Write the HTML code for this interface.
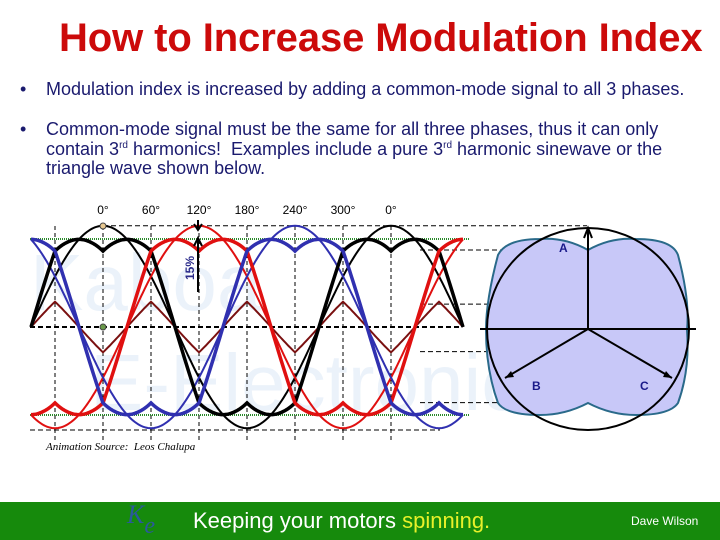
<!DOCTYPE html>
<html><head><meta charset="utf-8"><style>
body{margin:0;width:720px;height:540px;overflow:hidden;background:#fff;font-family:"Liberation Sans",sans-serif;position:relative}
.t{position:absolute;white-space:nowrap}
</style></head><body>
<div class="t" style="left:59px;top:16px;font-size:40px;font-weight:bold;color:#cc0a0a;letter-spacing:-0.1px">How to Increase Modulation Index</div>
<div class="t" style="left:20px;top:79px;font-size:18px;color:#1a1a6e;letter-spacing:0px">•<span style="position:absolute;left:26px">Modulation index is increased by adding a common-mode signal to all 3 phases.</span></div>
<div class="t" style="left:20px;top:120px;font-size:18px;color:#1a1a6e;line-height:19.5px;letter-spacing:0px">•<span style="position:absolute;left:26px">Common-mode signal must be the same for all three phases, thus it can only<br>contain 3<sup style="font-size:10px;line-height:0">rd</sup> harmonics!&nbsp; Examples include a pure 3<sup style="font-size:10px;line-height:0">rd</sup> harmonic sinewave or the<br>triangle wave shown below.</span></div>
<svg id="chart" width="720" height="540" style="position:absolute;left:0;top:0">
<g id="wm" font-family="Liberation Sans" fill="#d4e4f4" opacity="0.45">
<text x="30" y="310" font-size="80">Kaboa</text><text x="90" y="410" font-size="80">E-Electronics</text></g>
<g id="g"></g>
</svg>
<div class="t" style="left:46px;top:441px;font-size:11px;font-style:italic;font-family:'Liberation Serif',serif">Animation Source:&nbsp; Leos Chalupa</div>
<div style="position:absolute;left:0;top:502px;width:720px;height:38px;background:#168a0c">
<div class="t" style="left:127px;top:-2px;font-size:26px;font-style:italic;color:#2a5a9a;font-family:'Liberation Serif',serif">K<span style="font-size:24px;position:relative;top:10px">e</span></div>
<div class="t" style="left:193px;top:6px;font-size:22px;color:#fff">Keeping your motors <span style="color:#e8f02a">spinning.</span></div>
<div class="t" style="left:631px;top:12px;font-size:12px;color:#fff">Dave Wilson</div>
</div>
<script>
const angleTicks=[0,60,120,180,240,300,360];
const tickLabels=["0°","60°","120°","180°","240°","300°","0°"];
const sineAmp=[1.15];
const phaseShifts=[0,120,240];
const phaseColors=["#000000","#e01010","#3030b0"];
const x=d=>103+d*0.8, y=v=>327-v*88;
const NS="http://www.w3.org/2000/svg", g=document.getElementById('g');
function el(t,a,p){const e=document.createElementNS(NS,t);for(const k in a)e.setAttribute(k,a[k]);(p||g).appendChild(e);return e;}
const A=sineAmp[0];
const s=(d,k)=>A*Math.cos((d-phaseShifts[k])*Math.PI/180);
const cm=d=>{const v=[0,1,2].map(k=>s(d,k));return -(Math.max(...v)+Math.min(...v))/2;};
[ -60,0,60,120,180,240,300,360].forEach(d=>{const l=el('line',{x1:x(d),x2:x(d),y1:226,y2:440,stroke:'#000','stroke-dasharray':'4,3','stroke-width':1});});
[[1.15,103,587],[0.875,420,587],[0.26,420,587],[0,30,462],[-0.28,420,587],[-0.86,420,587],[-1.17,30,440]].forEach(h=>{const l=el('line',{x1:h[1],x2:h[2],y1:y(h[0]),y2:y(h[0]),stroke:'#000','stroke-dasharray':'5,3','stroke-width':h[0]==0?2:1});});
[1,-1].forEach(v=>{const l=el('line',{x1:30,x2:470,y1:y(v),y2:y(v),stroke:'#2a8a2a','stroke-dasharray':'1,1','stroke-width':2});});
tickLabels.forEach((t,i)=>{const e=el('text',{x:x(angleTicks[i]),y:214,'font-size':12,'text-anchor':'middle','font-family':'Liberation Sans'});e.textContent=t;});
function path(f,col,w,name){let p='';for(let d=-90;d<=450;d+=2)p+=(p?'L':'M')+x(d).toFixed(1)+','+y(f(d)).toFixed(1);const e=el('path',{d:p,fill:'none',stroke:col,'stroke-width':w});}
path(cm,'#7a1010',2,'common-mode-triangle');
[0,1,2].forEach(k=>path(d=>s(d,k),phaseColors[k],2,'pure-sine-phase'));
[0,1,2].forEach(k=>path(d=>s(d,k)+cm(d),phaseColors[k],3.5,'modulated-phase'));
let c=el('circle',{cx:103,cy:226,r:3,fill:'#e8c890',stroke:'#444'});
c=el('circle',{cx:103,cy:327,r:3,fill:'#6a9a4a',stroke:'#444'});
let a=el('path',{d:'M198,292V240M194,246L198,238L202,246M198,220V228M194,224L198,230L202,224',stroke:'#000','stroke-width':2,fill:'none'});
let tt=el('text',{x:0,y:0,'font-size':12,'font-weight':'bold',fill:'#2a2a8a','font-family':'Liberation Sans',transform:'translate(194,280) rotate(-90)'});tt.textContent='15%';
let b=el('path',{d:'M540,239 Q565,237 588,250 Q611,237 636,239 Q672,239 678,255 Q690,300 687,330 Q690,370 678,403 Q670,415 636,415 Q611,415 588,403 Q565,415 540,415 Q506,415 498,403 Q486,370 486,330 Q486,300 498,255 Q506,239 540,239Z',fill:'#c8c8f8',stroke:'#2a6a8a','stroke-width':2});
c=el('circle',{cx:588,cy:329,r:101,fill:'none',stroke:'#000','stroke-width':2});
a=el('path',{d:'M480,329H696M588,329V230M584,238L588,228L592,238M588,329L505,378M588,329L672,378',stroke:'#000','stroke-width':2,fill:'none'});
a=el('path',{d:'M505,378L511,371L514,377ZM672,378L663,377L666,371Z',fill:'#000'});
[['A',559,252],['B',532,390],['C',640,390]].forEach(v=>{const e=el('text',{x:v[1],y:v[2],'font-size':12,'font-weight':'bold',fill:'#1a1a8a','font-family':'Liberation Sans'});e.textContent=v[0];});
</script>
</body></html>
